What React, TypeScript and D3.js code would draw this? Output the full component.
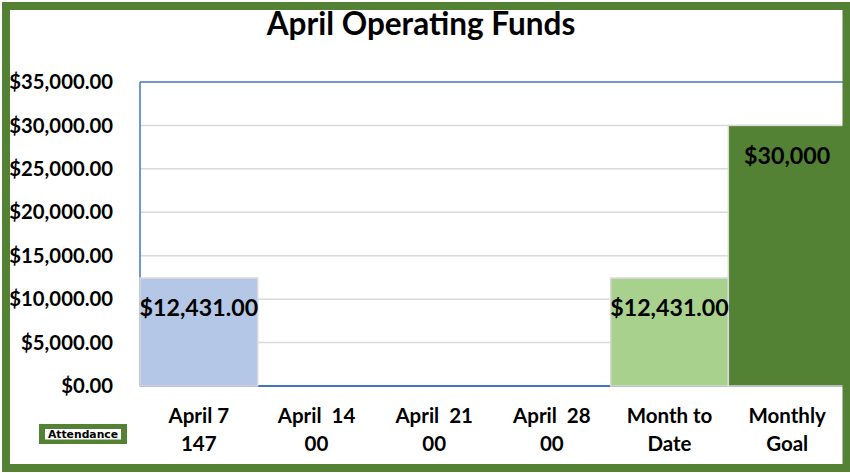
import React from "react";
import * as d3 from "d3";

const categories = ["April 7\n147", "April  14\n00", "April  21\n00", "April  28\n00", "Month to\nDate", "Monthly\nGoal"];
const values = [12431, 0, 0, 0, 12431, 30000];
const dataLabels = ["$12,431.00", "", "", "", "$12,431.00", "$30,000"];
const barColors = ["#B4C7E7", "#B4C7E7", "#B4C7E7", "#B4C7E7", "#A9D18E", "#548235"];
const yTicks = [0, 5000, 10000, 15000, 20000, 25000, 30000, 35000];
const title = "April Operating Funds";

const W = 850, H = 473;
const FONT = "Lato, 'Open Sans', sans-serif";

export default function App() {
  const left = 140, right = 846, top = 82, bottom = 386;
  const x = d3.scaleBand<number>().domain(d3.range(categories.length)).range([left, right]).padding(0);
  const y = d3.scaleLinear().domain([0, 35000]).range([bottom, top]);
  const fmt = (v: number) => "$" + d3.format(",.2f")(v);

  return (
    <svg width={W} height={H} style={{ position: "absolute", left: 0, top: 0, background: "#fff" }}>
      <rect x={0} y={0} width={W} height={H} fill="#fff" />
      {/* gridlines */}
      {yTicks.filter((t) => t > 0 && t < 35000).map((t) => (
        <line key={t} x1={left} x2={right - 1} y1={y(t)} y2={y(t)} stroke="#D9D9D9" strokeWidth={1.5} />
      ))}
      {/* plot frame */}
      <line x1={right - 1} x2={right - 1} y1={top} y2={bottom} stroke="#D9D9D9" strokeWidth={1.5} />
      <line x1={left} x2={right - 1} y1={y(35000)} y2={y(35000)} stroke="#4472C4" strokeWidth={1.5} />
      <line x1={left} x2={left} y1={top} y2={bottom} stroke="#4472C4" strokeWidth={1.5} />
      <line x1={left} x2={right} y1={bottom} y2={bottom} stroke="#4472C4" strokeWidth={2} />
      {/* bars */}
      {values.map((v, i) =>
        v > 0 ? (
          <rect key={i} x={x(i)!} y={y(v)} width={x.bandwidth()} height={bottom - y(v)} fill={barColors[i]} stroke="#D9D9D9" strokeWidth={1.5} />
        ) : null
      )}
      {/* y tick labels */}
      {yTicks.map((t) => (
        <text key={t} x={113} y={y(t)} dy="0.35em" textAnchor="end" fontFamily={FONT} fontWeight="bold" fontSize={20.3} fill="#000">
          {fmt(t)}
        </text>
      ))}
      {/* x labels */}
      {categories.map((c, i) => {
        const lines = c.split("\n");
        return (
          <text key={i} x={x(i)! + x.bandwidth() / 2} textAnchor="middle" fontFamily={FONT} fontWeight="bold" fontSize={20.5} fill="#000" style={{ whiteSpace: "pre" }}>
            {lines.map((l, j) => (
              <tspan key={j} x={x(i)! + x.bandwidth() / 2} y={423 + j * 28}>{l}</tspan>
            ))}
          </text>
        );
      })}
      {/* data labels */}
      {values.map((v, i) =>
        dataLabels[i] ? (
          <text key={i} x={x(i)! + x.bandwidth() / 2} y={i === 5 ? y(v) + 39 : y(v) + 38} textAnchor="middle" fontFamily={FONT} fontWeight="bold" fontSize={23.2} fill="#000">
            {dataLabels[i]}
          </text>
        ) : null
      )}
      {/* title */}
      <text x={421} y={35} textAnchor="middle" fontFamily={FONT} fontWeight="bold" fontSize={31.5} fill="#000">{title}</text>
      {/* attendance box */}
      <rect x={39} y={424} width={88} height={20} fill="#548235" />
      <rect x={45} y={429} width={76} height={10.5} fill="#fff" />
      <text x={83} y={438} textAnchor="middle" fontFamily="'DejaVu Sans', sans-serif" fontWeight="bold" fontSize={10.8} fill="#000">Attendance</text>
      {/* outer border */}
      <rect x={6} y={6} width={W - 9.5} height={H - 11} fill="none" stroke="#548235" strokeWidth={8} />
    </svg>
  );
}
